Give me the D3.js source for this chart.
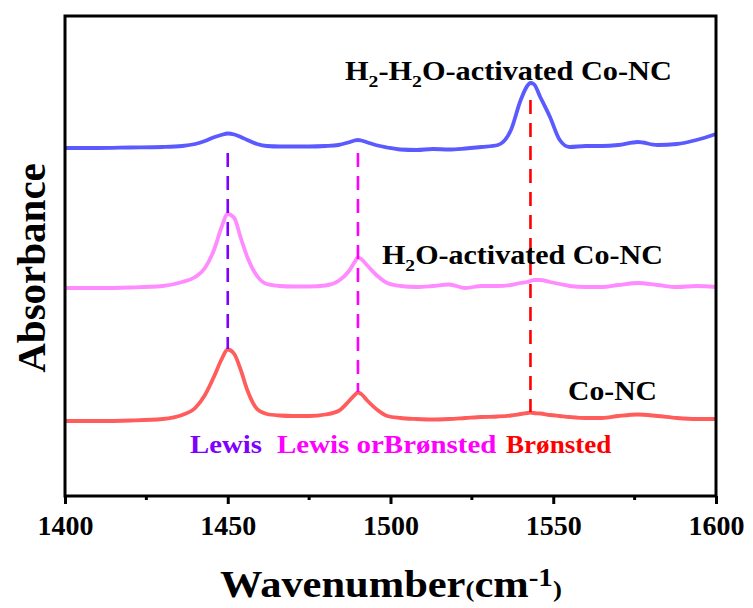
<!DOCTYPE html>
<html>
<head>
<meta charset="utf-8">
<script src="https://cdn.jsdelivr.net/npm/d3@7"></script>
<style>
  html, body { margin: 0; padding: 0; background: #fff; }
  svg { display: block; font-family: "Liberation Serif", "Times New Roman", serif; font-weight: 700; }
</style>
</head>
<body>
<svg id="chart" width="753" height="608"></svg>
<script>
// Wavenumber sampling (cm-1) shared by the three pyridine-IR spectra
const wavenumbers = [1400,1410,1420,1430,1436,1440,1443,1446,1448,1450,1452,1454,1456,1459,1462,1466,1470,1475,1480,1484,1487,1489,1490,1491,1493,1496,1499,1503,1508,1513,1518,1523,1528,1533,1537,1540,1542,1543,1544,1546,1549,1552,1555,1560,1565,1570,1576,1582,1588,1594,1600];

// Absorbance (a.u., vertically offset spectra)
const h2h2oActivated = [350,350,350.5,351,352,354,357,361,363,364.5,363.5,361,358,354,352,351.5,351.5,351.5,352,353,355.5,357.5,358,357.5,355.5,352.5,350.5,348.5,348,349,348.5,349.5,351,353,368,398,412,415,414,401,381,358,351,352,352,353,356,353,354,358,364];
const h2oActivated   = [210,210,210.5,212,216,221,230,250,270,284,280,260,241,222,214,212,211.5,211.5,212.5,217,226,236,240.5,239,232,222,215,212,211,212,213.5,210,212,212,213,215,216,217,218,218,216,214,212,211,211,213,215,213,211,212,211];
const coNC           = [77,77,77.5,79,83,90,103,123,138,148.5,144,128,108,89,84,82.5,82,82,83.5,87,96,103,105.5,104,97,88,82,80,79,78.5,79,80,81,81.5,82.5,84,85,85.5,85,84.5,83,82,81,80,80,82,83.5,82,80,79,79];

const seriesNames = ["H2-H2O-activated Co-NC", "H2O-activated Co-NC", "Co-NC"];

// Acid-site band markers: position, top and bottom of the dashed guide (a.u.)
const markerNames  = ["Lewis", "Lewis orBrønsted", "Brønsted"];
const markerWn     = [1450, 1490, 1543];
const markerTop    = [345, 345, 398];
const markerBottom = [149, 106, 86];

const majorTicks = [1400, 1450, 1500, 1550, 1600];
const minorTicks = [1425, 1475, 1525, 1575];

const serif = '"Liberation Serif", "Times New Roman", serif';
const svg = d3.select("#chart");
const plotLeft = 65, plotRight = 716, plotTop = 16, plotBottom = 496;

const x = d3.scaleLinear().domain([1400, 1600]).range([plotLeft, plotRight]);
const y = d3.scaleLinear().domain([2, 482]).range([plotBottom, plotTop]);

const lineColors   = ["#5a5aff", "#ff8cff", "#ff5c5c"];
const markerColors = ["#8000ff", "#ff00ff", "#ff0000"];

// spectra
const line = d3.line()
  .x((d, i) => x(wavenumbers[i]))
  .y(d => y(d))
  .curve(d3.curveMonotoneX);

svg.append("g").selectAll("path")
  .data([h2h2oActivated, h2oActivated, coNC])
  .join("path")
  .attr("d", line)
  .attr("fill", "none")
  .attr("stroke", (d, i) => lineColors[i])
  .attr("stroke-width", 3.8)
  .attr("stroke-linejoin", "round");

// dashed band guides
svg.append("g").selectAll("line")
  .data(markerWn)
  .join("line")
  .attr("x1", d => x(d)).attr("x2", d => x(d))
  .attr("y1", (d, i) => y(markerTop[i]))
  .attr("y2", (d, i) => y(markerBottom[i]))
  .attr("stroke", (d, i) => markerColors[i])
  .attr("stroke-width", 2.6)
  .attr("stroke-dasharray", "14,9");

// frame
svg.append("rect")
  .attr("x", plotLeft).attr("y", plotTop)
  .attr("width", plotRight - plotLeft).attr("height", plotBottom - plotTop)
  .attr("fill", "none").attr("stroke", "#000").attr("stroke-width", 3);

// bottom axis
const axis = svg.append("g")
  .attr("transform", `translate(0,${plotBottom})`)
  .call(d3.axisBottom(x).tickValues(majorTicks).tickSize(8).tickFormat(d3.format("d")));
axis.attr("font-family", null).attr("font-size", null);
axis.select(".domain").remove();
axis.selectAll(".tick line").attr("stroke", "#000").attr("stroke-width", 3);
axis.selectAll(".tick text")
  .attr("y", 19)
  .attr("fill", "#000")
  .style("font-family", serif)
  .style("font-weight", "700")
  .style("font-size", "28px");

svg.append("g")
  .attr("transform", `translate(0,${plotBottom})`)
  .selectAll("line")
  .data(minorTicks)
  .join("line")
  .attr("x1", d => x(d)).attr("x2", d => x(d))
  .attr("y1", 0).attr("y2", 4)
  .attr("stroke", "#000").attr("stroke-width", 3);

// text helper: draw text in a group and stretch it to a given width
function label(px, py, width, size, color, build) {
  const g = svg.append("g");
  const t = g.append("text").attr("font-size", size).attr("fill", color);
  build(t);
  const bw = t.node().getBBox().width;
  const sx = width ? width / bw : 1;
  g.attr("transform", `translate(${px},${py}) scale(${sx},1)`);
  return g;
}

function withSubscripts(t, parts, size) {
  // parts: array of [string, isSubscript]
  let shifted = false;
  parts.forEach(([s, sub]) => {
    const ts = t.append("tspan").text(s);
    if (sub && !shifted) { ts.attr("dy", 7).attr("font-size", size * 0.65); shifted = true; }
    else if (!sub && shifted) { ts.attr("dy", -7); shifted = false; }
  });
}

// series labels
label(345, 80, 327, 27, "#000", t => withSubscripts(t,
  [["H", 0], ["2", 1], ["-H", 0], ["2", 1], ["O-activated Co-NC", 0]], 27));
label(382, 264, 281, 27, "#000", t => withSubscripts(t,
  [["H", 0], ["2", 1], ["O-activated Co-NC", 0]], 27));
label(568, 400, 89, 27, "#000", t => t.text(seriesNames[2]));

// band labels
const bandLabelX = [190, 277, 506];
const bandLabelW = [72, 220, 106];
markerNames.forEach((name, i) => {
  label(bandLabelX[i], 453, bandLabelW[i], 26, markerColors[i], t => t.text(name));
});

// axis titles
svg.append("text")
  .attr("transform", "translate(45,268) rotate(-90)")
  .attr("text-anchor", "middle")
  .attr("font-size", 41)
  .attr("fill", "#000")
  .text("Absorbance");

label(220, 597, 342, 38, "#000", t => {
  t.append("tspan").text("Wavenumber");
  t.append("tspan").attr("font-size", 24).text("(");
  t.append("tspan").text("cm");
  t.append("tspan").attr("font-size", 26).attr("dy", -11).text("-1");
  t.append("tspan").attr("font-size", 24).attr("dy", 11).text(")");
});
</script>
</body>
</html>
